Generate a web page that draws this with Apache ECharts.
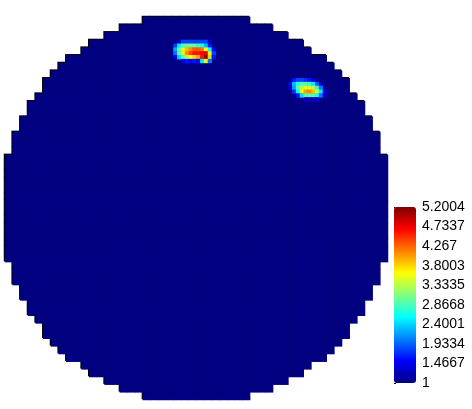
<!DOCTYPE html>
<html>
<head>
<meta charset="utf-8">
<script src="https://cdn.jsdelivr.net/npm/echarts@6/dist/echarts.min.js"></script>
<style>
  html, body { margin: 0; padding: 0; background: #fff; }
  #chart { width: 472px; height: 409px; }
</style>
</head>
<body>
<div id="chart"></div>
<script>
// disk mask on a 50x50 grid: first filled column of each row, top row first
// (the last filled column of a row is 49 - start)
var rowStart = [18, 15, 13, 11, 10, 8, 7, 6, 5, 5, 4, 3, 3, 2, 2, 1, 1, 1, 0, 0, 0, 0, 0, 0, 0,
                0, 0, 0, 0, 0, 0, 0, 1, 1, 1, 2, 2, 3, 3, 4, 5, 5, 6, 7, 8, 10, 11, 13, 15, 18];
var baseValue = 1;

// hot spots on a finer 100x100 grid over the same square: [col, row, value]
var spotA = [
  [45, 6, 1.3], [46, 6, 1.8], [47, 6, 1.8], [48, 6, 1.8], [49, 6, 1.8], [50, 6, 1.8], [51, 6, 1.8], [52, 6, 1.8], [53, 6, 1.3],
  [44, 7, 1.8], [45, 7, 2.5], [46, 7, 2.9], [47, 7, 3.0], [48, 7, 3.0], [49, 7, 3.0], [50, 7, 2.9], [51, 7, 2.7], [52, 7, 2.3], [53, 7, 1.6],
  [44, 8, 2.2], [45, 8, 3.0], [46, 8, 3.5], [47, 8, 3.9], [48, 8, 4.1], [49, 8, 4.3], [50, 8, 4.3], [51, 8, 4.2], [52, 8, 3.6], [53, 8, 2.6], [54, 8, 1.5],
  [44, 9, 2.0], [45, 9, 3.0], [46, 9, 3.6], [47, 9, 4.1], [48, 9, 4.4], [49, 9, 4.6], [50, 9, 4.6], [51, 9, 4.7], [52, 9, 4.8], [53, 9, 3.5], [54, 9, 1.8],
  [44, 10, 1.5], [45, 10, 2.4], [46, 10, 2.9], [47, 10, 3.3], [48, 10, 3.6], [49, 10, 3.8], [50, 10, 4.0], [51, 10, 4.6], [52, 10, 5.1], [53, 10, 3.8], [54, 10, 1.6],
  [46, 11, 1.5], [47, 11, 1.6], [48, 11, 1.5], [49, 11, 1.6], [50, 11, 1.5], [51, 11, 2.5], [52, 11, 3.5], [53, 11, 2.0]
];
var spotB = [
  [75, 16, 1.6], [76, 16, 1.8], [77, 16, 1.8], [78, 16, 1.7], [79, 16, 1.6], [80, 16, 1.4],
  [74, 17, 1.5], [75, 17, 2.3], [76, 17, 2.7], [77, 17, 2.9], [78, 17, 2.9], [79, 17, 2.8], [80, 17, 2.5], [81, 17, 1.9], [82, 17, 1.3],
  [74, 18, 1.3], [75, 18, 2.2], [76, 18, 2.9], [77, 18, 3.3], [78, 18, 3.5], [79, 18, 3.5], [80, 18, 3.3], [81, 18, 2.8], [82, 18, 2.0],
  [75, 19, 1.7], [76, 19, 2.6], [77, 19, 3.6], [78, 19, 4.0], [79, 19, 4.1], [80, 19, 3.9], [81, 19, 3.4], [82, 19, 2.5], [83, 19, 1.4],
  [76, 20, 1.6], [77, 20, 2.4], [78, 20, 2.9], [79, 20, 3.0], [80, 20, 2.9], [81, 20, 2.6], [82, 20, 2.0], [83, 20, 1.3],
  [78, 21, 1.3], [79, 21, 1.3], [80, 21, 1.3], [81, 21, 1.3]
];

var tickValues = [1, 1.4667, 1.9334, 2.4001, 2.8668, 3.3335, 3.8003, 4.267, 4.7337, 5.2004];
var vMin = 1, vMax = 5.2004;
var jet = ['#000080', '#0000ff', '#0080ff', '#00ffff', '#80ff80', '#ffff00', '#ff8000', '#ff0000', '#800000'];

var coarse = [], fine = [];
for (var i = 0; i < 50; i++) coarse.push(i);
for (var i = 0; i < 100; i++) fine.push(i);

// bottom rows and right columns first, so each cell's shadow only shows on the top/left rim
var diskData = [];
for (var r = rowStart.length - 1; r >= 0; r--) {
  for (var c = 49 - rowStart[r]; c >= rowStart[r]; c--) {
    diskData.push([c, r, baseValue]);
  }
}

var box = { left: 5, top: 17, width: 383, height: 383 };
var hidden = { show: false };

var myChart = echarts.init(document.getElementById('chart'));
var option = {
  animation: false,
  grid: [
    Object.assign({}, box),
    Object.assign({}, box),
    { left: 394, top: 207, width: 22, height: 176 }
  ],
  xAxis: [
    { type: 'category', data: coarse, gridIndex: 0, show: false },
    { type: 'category', data: fine, gridIndex: 1, show: false },
    { type: 'value', gridIndex: 2, show: false }
  ],
  yAxis: [
    { type: 'category', data: coarse, gridIndex: 0, inverse: true, show: false },
    { type: 'category', data: fine, gridIndex: 1, inverse: true, show: false },
    {
      type: 'value', gridIndex: 2, min: vMin, max: vMax, position: 'right',
      axisLine: hidden, splitLine: hidden,
      axisTick: { show: true, customValues: tickValues, length: 2, lineStyle: { color: '#000' } },
      axisLabel: {
        customValues: tickValues, color: '#000', fontSize: 14, margin: 6,
        fontFamily: 'Liberation Sans',
        formatter: function (v) { return String(v); }
      }
    }
  ],
  visualMap: {
    type: 'continuous',
    min: vMin, max: vMax,
    seriesIndex: [0, 1],
    calculable: false,
    orient: 'vertical',
    left: 394, top: 207,
    itemWidth: 22, itemHeight: 176,
    padding: 0,
    inRange: { color: jet }
  },
  series: [
    {
      type: 'heatmap', xAxisIndex: 0, yAxisIndex: 0,
      data: diskData, progressive: 0,
      itemStyle: { shadowColor: '#000', shadowOffsetX: -1, shadowOffsetY: -1, shadowBlur: 0 },
      emphasis: { disabled: true }
    },
    {
      type: 'heatmap', xAxisIndex: 1, yAxisIndex: 1,
      data: spotA.concat(spotB), progressive: 0,
      emphasis: { disabled: true }
    }
  ]
};
myChart.setOption(option);
</script>
</body>
</html>
